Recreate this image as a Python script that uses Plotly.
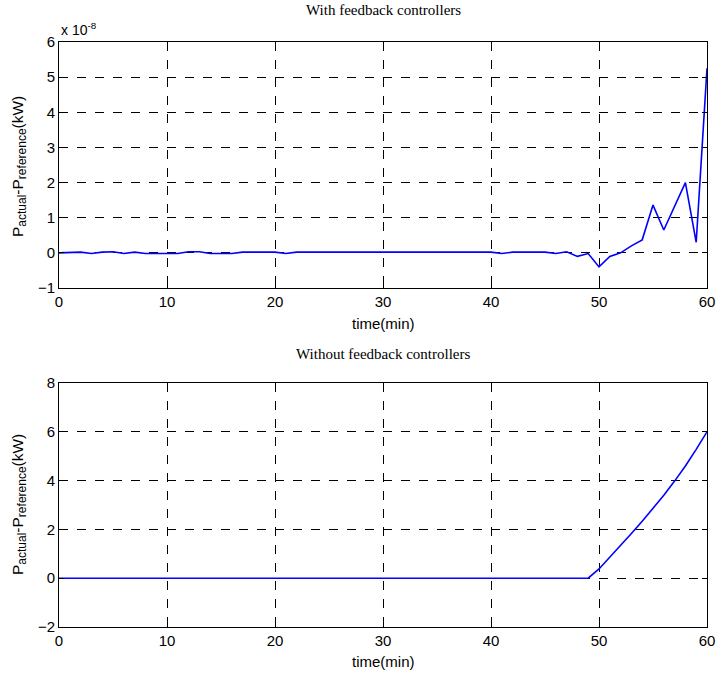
import plotly.graph_objects as go

# ---- data ----
time_min = list(range(0, 61))
# With feedback controllers (units of 1e-8 kW)
with_fb = [0.0, 0.02, 0.02, -0.02, 0.02, 0.03, -0.02, 0.02, -0.02, -0.02,
           -0.02, -0.02, 0.03, 0.03, -0.02, -0.03, -0.02, 0.02, 0.02, 0.02,
           0.02, -0.02, 0.02, 0.02, 0.02, 0.02, 0.02, 0.02, 0.02, 0.02,
           0.02, 0.02, 0.02, 0.02, 0.02, 0.02, 0.02, 0.02, 0.02, 0.02,
           0.02, -0.02, 0.02, 0.02, 0.02, 0.02, -0.02, 0.03, -0.1, -0.02,
           -0.4, -0.1, 0.0, 0.2, 0.37, 1.36, 0.65, 1.33, 2.0, 0.3, 5.25]
# Without feedback controllers (kW)
without_fb = [0.0] * 50 + [0.38, 0.85, 1.33, 1.83, 2.33, 2.85, 3.4, 3.98, 4.6, 5.28, 6.0]

x_ticks = [0, 10, 20, 30, 40, 50, 60]
top_yticks = [-1, 0, 1, 2, 3, 4, 5, 6]
bot_yticks = [-2, 0, 2, 4, 6, 8]

W, H = 716, 678
def px(x): return x / W
def py(y): return 1 - y / H

fig = go.Figure()
fig.add_trace(go.Scatter(x=time_min, y=with_fb, mode="lines",
                         line=dict(color="#0000ff", width=1.6),
                         xaxis="x", yaxis="y", showlegend=False, hoverinfo="skip"))
fig.add_trace(go.Scatter(x=time_min, y=without_fb, mode="lines",
                         line=dict(color="#0000ff", width=1.6),
                         xaxis="x2", yaxis="y2", showlegend=False, hoverinfo="skip"))

tickfont = dict(family="Liberation Sans, Arial, sans-serif", size=15, color="black")
ax_common = dict(showline=True, linecolor="black", linewidth=1, mirror="ticks",
                 ticks="inside", ticklen=5, tickcolor="black",
                 showgrid=True, gridcolor="black", griddash="dash", gridwidth=0.8,
                 zeroline=False, tickfont=tickfont, ticklabeloverflow="allow")

fig.update_layout(
    width=W, height=H,
    margin=dict(l=0, r=0, t=0, b=0, autoexpand=False),
    paper_bgcolor="white", plot_bgcolor="white",
    xaxis=dict(domain=[px(59), px(707)], range=[0, 60], tickvals=x_ticks,
               anchor="y", **ax_common),
    yaxis=dict(domain=[py(288), py(42)], range=[-1, 6], tickvals=top_yticks,
               anchor="x", **ax_common),
    xaxis2=dict(domain=[px(59), px(707)], range=[0, 60], tickvals=x_ticks,
                anchor="y2", **ax_common),
    yaxis2=dict(domain=[py(627), py(383)], range=[-2, 8], tickvals=bot_yticks,
                anchor="x2", **ax_common),
)

titlefont = dict(family="Liberation Serif, Times New Roman, serif", size=15, color="black")
labfont = dict(family="Liberation Sans, Arial, sans-serif", size=15, color="black")
ylab = ("P<sub><span style='font-size:12px'>actual</span></sub>-"
        "P<sub><span style='font-size:12px'>reference</span></sub>(kW)")
anns = [
    dict(x=px(383), y=py(10), text="With feedback controllers", font=titlefont),
    dict(x=px(383), y=py(354), text="Without feedback controllers", font=titlefont),
    dict(x=px(383), y=py(323), text="time(min)", font=labfont),
    dict(x=px(383), y=py(661), text="time(min)", font=labfont),
    dict(x=px(19), y=py(167), text=ylab, font=dict(labfont, size=15.5), textangle=-90),
    dict(x=px(19), y=py(505), text=ylab, font=dict(labfont, size=15.5), textangle=-90),
    dict(x=px(59), y=py(29), text="x 10<sup>-8</sup>", font=dict(labfont, size=14), xanchor="left"),
]
for a in anns:
    a.setdefault("xanchor", "center")
    fig.add_annotation(xref="paper", yref="paper", showarrow=False, yanchor="middle", **a)

fig.write_html("out.html", config={"displayModeBar": False},
               post_script="document.body.style.margin='0';document.body.style.padding='0';")
